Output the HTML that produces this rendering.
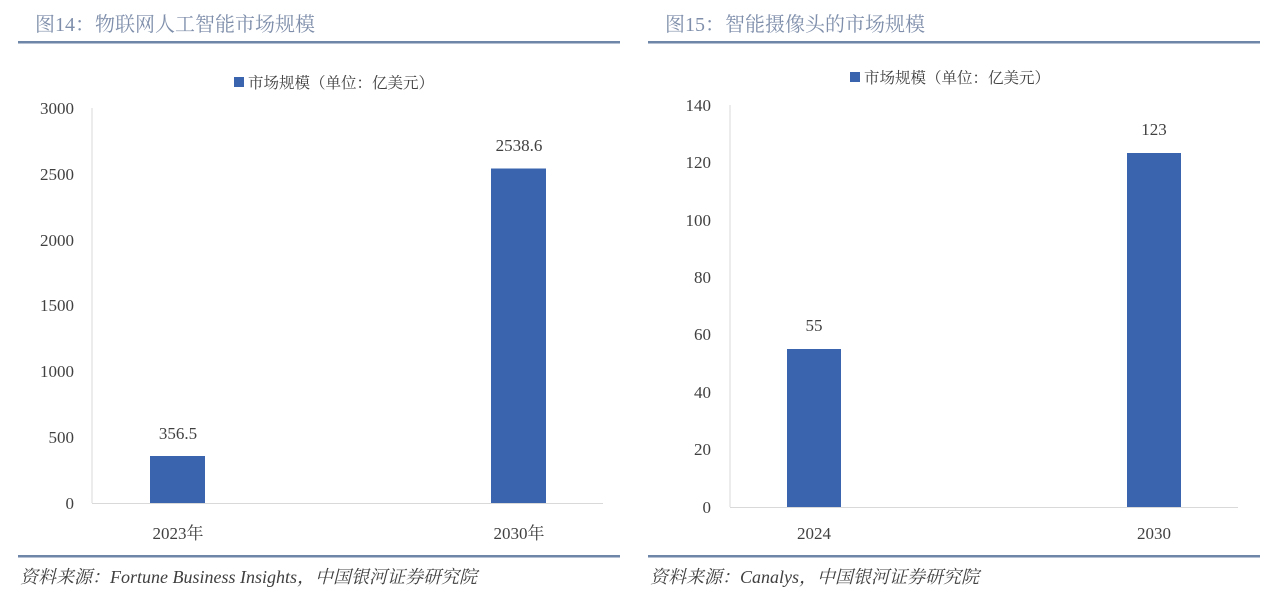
<!DOCTYPE html>
<html><head><meta charset="utf-8"><style>
html,body{margin:0;padding:0;background:#fff;}
svg text{font-family:"Liberation Serif","Noto Serif CJK SC",serif;fill:#404040;}
</style></head><body>
<svg width="1282" height="592" xmlns="http://www.w3.org/2000/svg">
<!-- Left -->
<text x="35" y="31" font-size="20" style="fill:#7f8fab">图14：物联网人工智能市场规模</text>
<rect x="18" y="41" width="602" height="2.5" fill="#6e86a8"/>
<rect x="234" y="77" width="10" height="10" fill="#3a64ae"/>
<text x="248" y="88" font-size="15.5">市场规模（单位：亿美元）</text>
<g font-size="17" text-anchor="end">
<text x="74" y="114">3000</text><text x="74" y="180">2500</text><text x="74" y="246">2000</text>
<text x="74" y="311">1500</text><text x="74" y="377">1000</text><text x="74" y="443">500</text><text x="74" y="509">0</text>
</g>
<line x1="92" y1="108" x2="92" y2="503" stroke="#d9d9d9"/>
<line x1="92" y1="503.5" x2="603" y2="503.5" stroke="#d9d9d9"/>
<rect x="150" y="456" width="55" height="47" fill="#3a64ae"/>
<rect x="491" y="168.5" width="55" height="334.5" fill="#3a64ae"/>
<g font-size="17" text-anchor="middle">
<text x="178" y="439">356.5</text><text x="519" y="151">2538.6</text>
<text x="178" y="539">2023年</text><text x="519" y="539">2030年</text>
</g>
<rect x="18" y="555" width="602" height="2.5" fill="#6e86a8"/>
<text x="20" y="583" font-size="18" font-style="italic">资料来源：Fortune Business Insights，中国银河证券研究院</text>
<!-- Right -->
<text x="665" y="31" font-size="20" style="fill:#7f8fab">图15：智能摄像头的市场规模</text>
<rect x="648" y="41" width="612" height="2.5" fill="#6e86a8"/>
<rect x="850" y="72" width="10" height="10" fill="#3a64ae"/>
<text x="864" y="83" font-size="15.5">市场规模（单位：亿美元）</text>
<g font-size="17" text-anchor="end">
<text x="711" y="111">140</text><text x="711" y="168">120</text><text x="711" y="226">100</text>
<text x="711" y="283">80</text><text x="711" y="340">60</text><text x="711" y="398">40</text>
<text x="711" y="455">20</text><text x="711" y="513">0</text>
</g>
<line x1="730" y1="105" x2="730" y2="507" stroke="#d9d9d9"/>
<line x1="730" y1="507.5" x2="1238" y2="507.5" stroke="#d9d9d9"/>
<rect x="787" y="349" width="54" height="158" fill="#3a64ae"/>
<rect x="1127" y="153" width="54" height="354" fill="#3a64ae"/>
<g font-size="17" text-anchor="middle">
<text x="814" y="331">55</text><text x="1154" y="135">123</text>
<text x="814" y="539">2024</text><text x="1154" y="539">2030</text>
</g>
<rect x="648" y="555" width="612" height="2.5" fill="#6e86a8"/>
<text x="650" y="583" font-size="18" font-style="italic">资料来源：Canalys，中国银河证券研究院</text>
</svg>
</body></html>
